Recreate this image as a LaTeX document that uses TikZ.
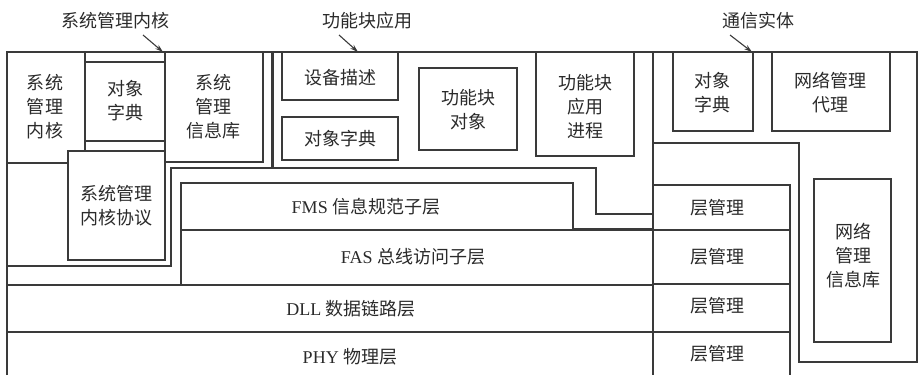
\documentclass[tikz,border=0pt]{standalone}
\usepackage{fontspec}
\setmainfont{Liberation Serif}
\newfontfamily\cjk{Noto Sans CJK SC}
\usetikzlibrary{arrows.meta}
\definecolor{ln}{HTML}{3A3A3A}
\definecolor{tx}{HTML}{2A2A2A}
\begin{document}
\begin{tikzpicture}[x=1pt,y=-1pt,
  thinl/.style={draw=ln,line width=1.1pt},
  framel/.style={draw=ln,line width=1.5pt},
  thickl/.style={draw=ln,line width=2.2pt},
  lbl/.style={text=tx,font=\cjk\fontsize{18}{24}\selectfont,align=center,inner sep=0pt},
  arr/.style={draw=ln,line width=1.1pt,-{Stealth[length=8pt,width=5pt]}},
  line join=miter]
\useasboundingbox (0,0) rectangle (923,375);

% outer frame and communication entity outline
\draw[framel] (7,375) -- (7,52) -- (917,52) -- (917,362) -- (799,362) -- (799,143) -- (653,143);
\draw[framel] (653,52) -- (653,375);
\draw[thickl] (272.5,52) -- (272.5,168);

% system management kernel
\draw[thinl] (85,52) -- (85,151);
\draw[thinl] (7,163) -- (68,163);
\draw[thinl] (85,62) -- (165,62);
\draw[thinl] (85,141) -- (165,141);
\draw[thinl] (165,52) -- (165,151);
\draw[thinl] (68,151) rectangle (165,260);
\draw[thinl] (165,162) -- (263,162) -- (263,52);

% stack outlines
\draw[thickl] (7,266) -- (171,266) -- (171,168) -- (596,168) -- (596,214) -- (653,214);
\draw[thickl] (181,285) -- (181,183) -- (573,183) -- (573,229.5) -- (653,229.5);
\draw[thinl] (181,230) -- (573,230);
\draw[thickl] (7,285) -- (653,285);
\draw[thinl] (7,332) -- (653,332);

% function block application
\draw[thinl] (282,52) -- (282,100) -- (398,100) -- (398,52);
\draw[thinl] (282,117) rectangle (398,160);
\draw[thinl] (419,68) rectangle (517,150);
\draw[thinl] (536,52) -- (536,156) -- (634,156) -- (634,52);

% communication entity
\draw[thinl] (673,52) -- (673,131) -- (753,131) -- (753,52);
\draw[thinl] (772,52) -- (772,131) -- (890,131) -- (890,52);
\draw[thinl] (653,185) -- (790,185) -- (790,375);
\draw[thinl] (653,230) -- (790,230);
\draw[thinl] (653,284) -- (790,284);
\draw[thinl] (653,332) -- (790,332);
\draw[thinl] (814,179) rectangle (891,342);

% top labels and arrows
\node[lbl] (tSMK) at (115,21) {系统管理内核};
\node[lbl] (tFBA) at (367,21) {功能块应用};
\node[lbl] (tCE) at (758,21) {通信实体};
\coordinate (s1) at (143,35); \coordinate (e1) at (163,52);
\coordinate (s2) at (339,35); \coordinate (e2) at (358,52);
\coordinate (s3) at (730,35); \coordinate (e3) at (752,52);
\draw[arr] (s1) -- (e1);
\draw[arr] (s2) -- (e2);
\draw[arr] (s3) -- (e3);

% box texts
\node[lbl] (smk) at (45,107) {系统\\管理\\内核};
\node[lbl] (od1) at (125,101) {对象\\字典};
\node[lbl] (smib) at (213,107) {系统\\管理\\信息库};
\node[lbl] (smkp) at (116,206) {系统管理\\内核协议};
\node[lbl] (dd) at (340,78) {设备描述};
\node[lbl] (od2) at (340,139) {对象字典};
\node[lbl] (fbo) at (468,110) {功能块\\对象};
\node[lbl] (fbap) at (585,107) {功能块\\应用\\进程};
\node[lbl] (od3) at (712,93) {对象\\字典};
\node[lbl] (nma) at (830,93) {网络管理\\代理};
\node[lbl] (fms) at (366,207) {{\rmfamily FMS }信息规范子层};
\node[lbl] (fas) at (413,257) {{\rmfamily FAS }总线访问子层};
\node[lbl] (dll) at (351,309) {{\rmfamily DLL }数据链路层};
\node[lbl] (phy) at (350,357) {{\rmfamily PHY }物理层};
\node[lbl] (lm1) at (717,208) {层管理};
\node[lbl] (lm2) at (717,257) {层管理};
\node[lbl] (lm3) at (717,306) {层管理};
\node[lbl] (lm4) at (717,354) {层管理};
\node[lbl] (nmib) at (853,256) {网络\\管理\\信息库};
\end{tikzpicture}
\end{document}
